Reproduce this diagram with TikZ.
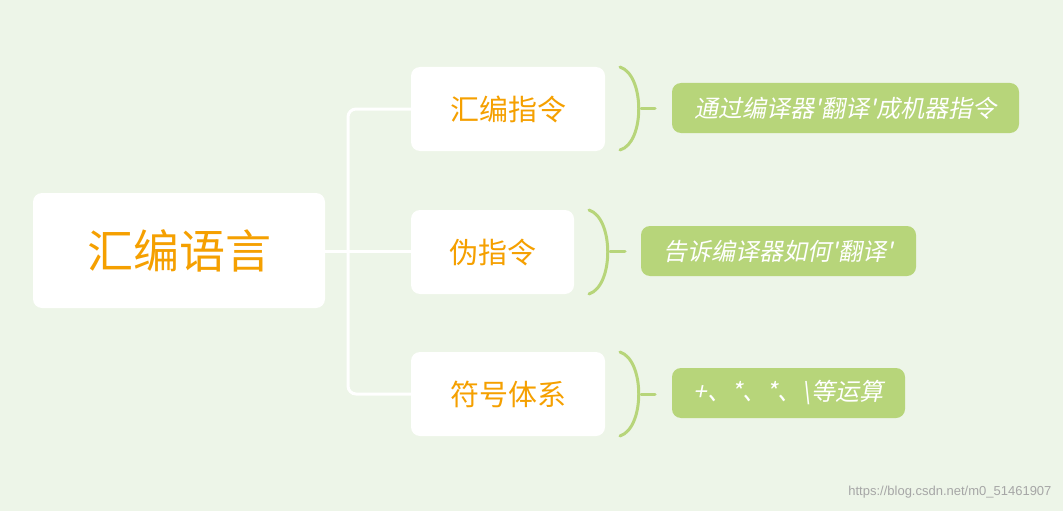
\documentclass[tikz,border=0pt]{standalone}
\usepackage{fontspec}
\newfontfamily\cjk{Noto Sans CJK SC}
\newfontfamily\cjkit[FakeSlant=0.2]{Noto Sans CJK SC}
\setmainfont{Liberation Sans}
\definecolor{bg}{HTML}{EDF5E8}
\definecolor{lg}{HTML}{B7D57A}
\definecolor{og}{HTML}{F5A000}
\begin{document}
\begin{tikzpicture}[x=1pt,y=-1pt,
  wbox/.style={fill=white,rounded corners=9pt,text=og,font=\cjk\fontsize{29}{33}\selectfont},
  gbox/.style={fill=lg,rounded corners=9pt,text=white,font=\cjkit\fontsize{24}{28}\selectfont},
  link/.style={white,line width=3pt,rounded corners=8pt},
  brk/.style={lg,line width=3pt,line cap=round}]
\fill[bg] (0,0) rectangle (1063,511);
\useasboundingbox (0,0) rectangle (1063,511);
\path[wbox] (33,193) rectangle node[font=\cjk\fontsize{46}{52}\selectfont,text=og] (root) {汇编语言} (325,308);
\path[wbox] (411,67) rectangle node[wbox,fill=none] (a) {汇编指令} (605,151);
\path[wbox] (411,210) rectangle node[wbox,fill=none] (b) {伪指令} (574,294);
\path[wbox] (411,352) rectangle node[wbox,fill=none] (c) {符号体系} (605,436);
\coordinate (r) at (325,251);
\coordinate (al) at (411,109);
\coordinate (bl) at (411,251);
\coordinate (cl) at (411,394);
\draw[link] (al) -- (348,109) -- (348,394) -- (cl);
\draw[link] (r) -- (bl);
\path[gbox] (672,83) rectangle node[gbox,fill=none] (la) {通过编译器'翻译'成机器指令} (1019,133);
\path[gbox] (641,226) rectangle node[gbox,fill=none] (lb) {告诉编译器如何'翻译'} (916,276);
\path[gbox] (672,368) rectangle node[gbox,fill=none] (lc) {+、*、*、\textbackslash{}等运算} (905,418);
\draw[brk] (620,67) .. controls (645,75) and (645,143) .. (620,150);
\draw[brk] (641,108) -- (655,108);
\draw[brk] (589,210) .. controls (614,218) and (614,286) .. (589,294);
\draw[brk] (610,251) -- (625,251);
\draw[brk] (620,352) .. controls (645,360) and (645,428) .. (620,436);
\draw[brk] (641,394) -- (655,394);
\node[anchor=east,text=gray!70,font=\fontsize{13}{15}\selectfont] (wm) at (1055,492) {https://blog.csdn.net/m0\_51461907};
\end{tikzpicture}
\end{document}
